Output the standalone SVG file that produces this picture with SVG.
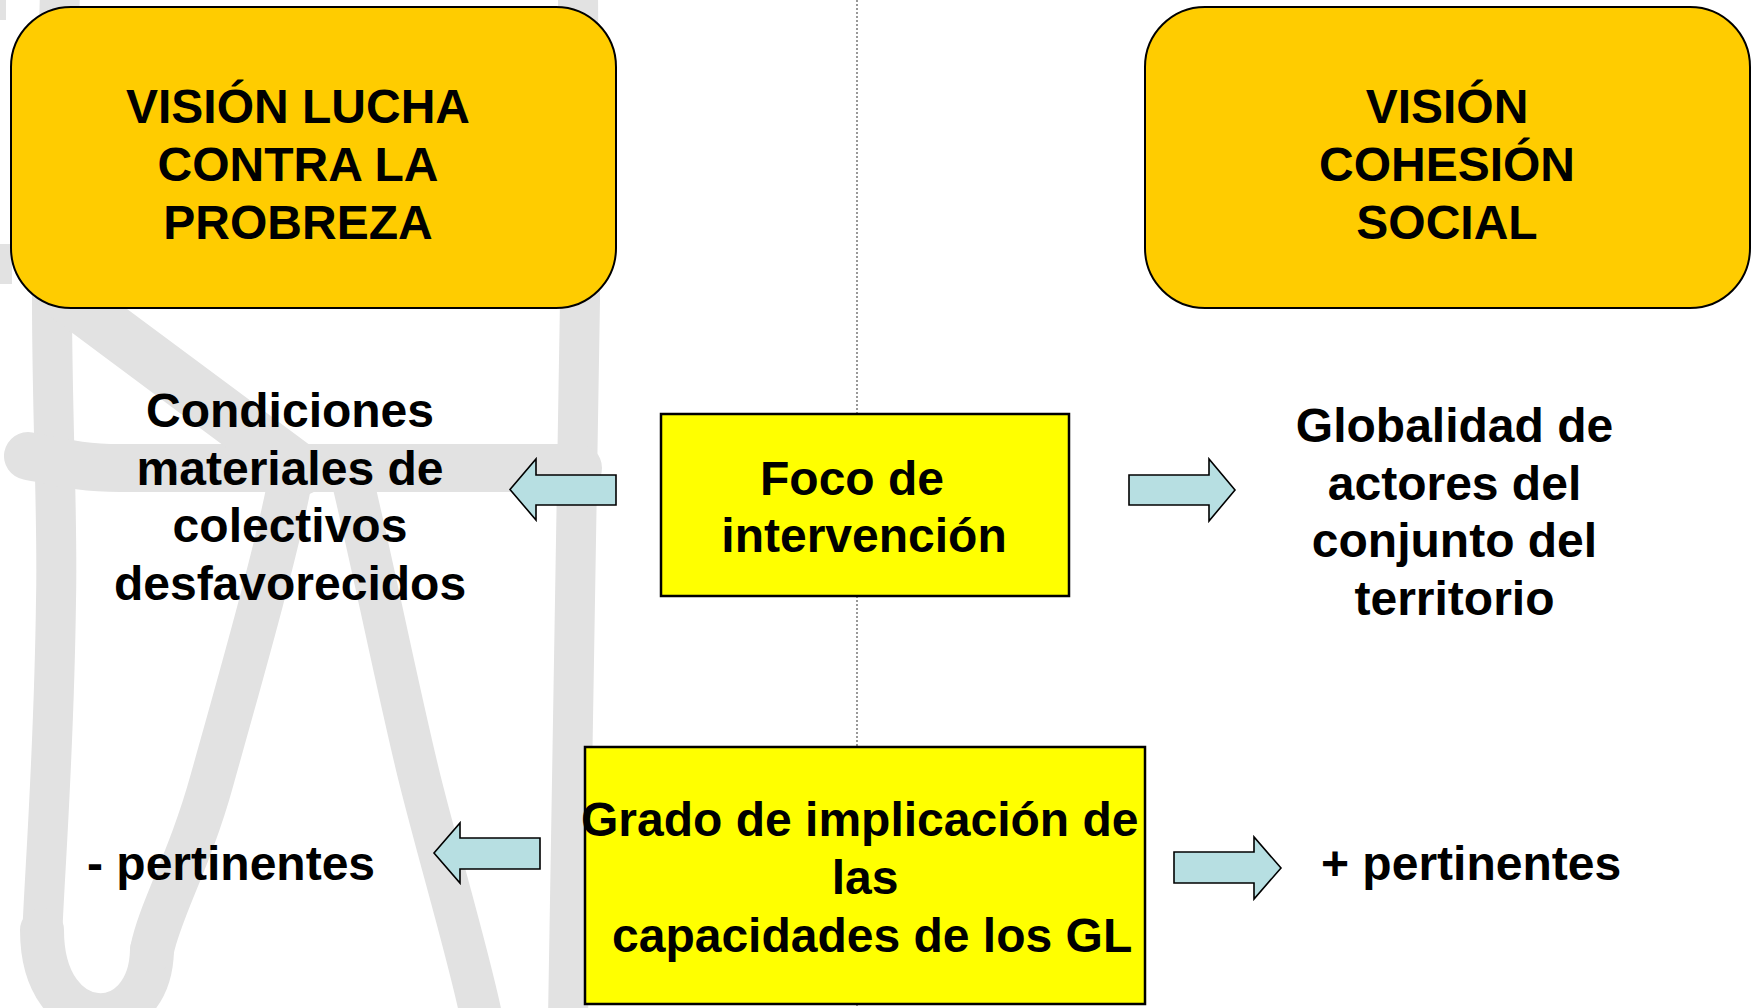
<svg xmlns="http://www.w3.org/2000/svg" width="1757" height="1008" viewBox="0 0 1757 1008">
<style>
.wm{fill:none;stroke:#e2e2e2;stroke-linecap:round;stroke-linejoin:round}
.vision{fill:#FFCC00;stroke:#000;stroke-width:2}
.box{fill:#FFFF00;stroke:#000;stroke-width:2.5}
.arrow{fill:#B7DFE2;stroke:#000;stroke-width:1.6;stroke-linejoin:miter}
.t{font-family:"Liberation Sans",Arial,Helvetica,sans-serif;font-weight:bold;font-size:48px;fill:#000}
.m{text-anchor:middle}
.divider{stroke:#555;stroke-width:1.2;stroke-dasharray:2 2;fill:none}
</style>
<rect x="0" y="0" width="1757" height="1008" fill="#fff"/>
<g id="watermark">
  <rect x="0" y="0" width="6" height="20" fill="#e2e2e2"/>
  <rect x="0" y="244" width="12" height="40" fill="#e2e2e2"/>
  <path class="wm" stroke-width="40" d="M60,-10 L52,300 C52,420 58,520 56,600 C54,760 44,880 42,940"/>
  <path class="wm" stroke-width="44" d="M42,930 C42,1040 150,1040 152,950"/>
  <path class="wm" stroke-width="44" d="M292,470 C280,540 240,680 212,780 C190,860 160,910 152,950"/>
  <path class="wm" stroke-width="42" d="M350,470 C372,560 400,700 420,780 S470,960 482,1020"/>
  <path class="wm" stroke-width="40" d="M578,-10 L580,300 C578,500 572,700 568,1020"/>
  <path class="wm" stroke-width="48" d="M28,456 C60,462 80,468 120,468 L578,468"/>
  <path class="wm" stroke-width="52" d="M58,290 L300,470"/>
</g>
<g id="connectors">
  <line class="divider" x1="857" y1="0" x2="857" y2="1008"/>
  <polygon id="arrow-foco-left" class="arrow" points="616,475 536,475 536,459 510,489.5 536,520 536,505 616,505"/>
  <polygon id="arrow-foco-right" class="arrow" points="1129,475 1209,475 1209,459 1235,490 1209,521 1209,505 1129,505"/>
  <polygon id="arrow-grado-left" class="arrow" points="540,838 460,838 460,823 434,853 460,883 460,869 540,869"/>
  <polygon id="arrow-grado-right" class="arrow" points="1174,852 1254,852 1254,837 1281,868 1254,899 1254,883 1174,883"/>
</g>
<g id="vision-lucha">
  <rect class="vision" x="11" y="7" width="605" height="301" rx="60" ry="60"/>
  <text class="t m" x="298" y="123">VISIÓN LUCHA</text>
  <text class="t m" x="298" y="181">CONTRA LA</text>
  <text class="t m" x="298" y="239">PROBREZA</text>
</g>
<g id="vision-cohesion">
  <rect class="vision" x="1145" y="7" width="605" height="301" rx="60" ry="60"/>
  <text class="t m" x="1447" y="123">VISIÓN</text>
  <text class="t m" x="1447" y="181">COHESIÓN</text>
  <text class="t m" x="1447" y="239">SOCIAL</text>
</g>
<g id="condiciones">
  <text class="t m" x="290" y="427">Condiciones</text>
  <text class="t m" x="290" y="484.5">materiales de</text>
  <text class="t m" x="290" y="542">colectivos</text>
  <text class="t m" x="290" y="599.5">desfavorecidos</text>
</g>
<g id="foco">
  <rect class="box" x="661" y="414" width="408" height="182"/>
  <text class="t m" x="852" y="495">Foco de</text>
  <text class="t m" x="864" y="552">intervención</text>
</g>
<g id="globalidad">
  <text class="t m" x="1454.5" y="442">Globalidad de</text>
  <text class="t m" x="1454.5" y="499.5">actores del</text>
  <text class="t m" x="1454.5" y="557">conjunto del</text>
  <text class="t m" x="1454.5" y="614.5">territorio</text>
</g>
<g id="grado">
  <rect class="box" x="585" y="747" width="560" height="257"/>
  <text class="t" x="581" y="836">Grado de implicación de</text>
  <text class="t m" x="865" y="894">las</text>
  <text class="t" x="612" y="951.5">capacidades de los GL</text>
</g>
<g id="menos-pertinentes">
  <text class="t" x="87" y="880">- pertinentes</text>
</g>
<g id="mas-pertinentes">
  <text class="t" x="1321" y="880">+ pertinentes</text>
</g>
</svg>
